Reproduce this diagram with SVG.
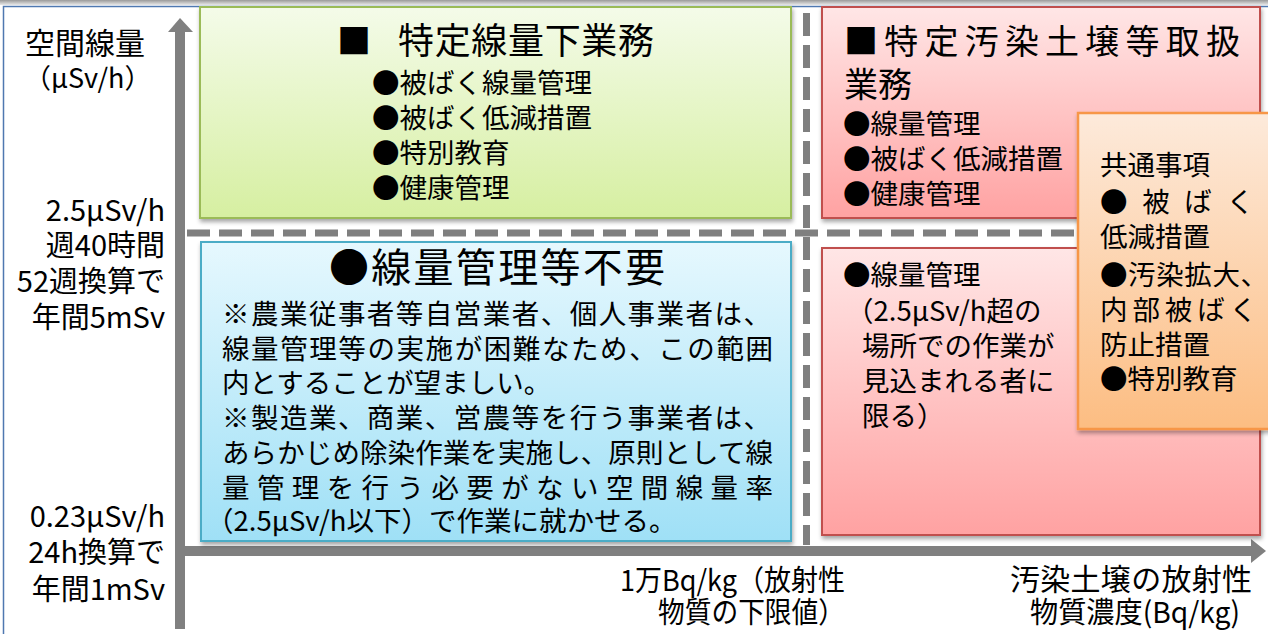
<svg xmlns="http://www.w3.org/2000/svg" width="1268" height="634" viewBox="0 0 1268 634">
<defs>
<style>
text{font-family:"Noto Sans CJK JP","Noto Sans",sans-serif;fill:#000;}
.t27{font-size:29px;}
.t28{font-size:27.5px;}
.lbl{font-size:29px;text-anchor:end;}
.axis{fill:#808080;}
.dash{stroke:#7f7f7f;stroke-width:7;fill:none;stroke-dasharray:23 9;}
</style>
<linearGradient id="gGreen" x1="0" y1="0" x2="0" y2="1"><stop offset="0" stop-color="#f4fbe9"/><stop offset="1" stop-color="#d6efa1"/></linearGradient>
<linearGradient id="gRed" x1="0" y1="0" x2="0" y2="1"><stop offset="0" stop-color="#ffe6e6"/><stop offset="1" stop-color="#ffa2a2"/></linearGradient>
<linearGradient id="gBlue" x1="0" y1="0" x2="0" y2="1"><stop offset="0" stop-color="#e6f8fe"/><stop offset="1" stop-color="#9fe0f6"/></linearGradient>
<linearGradient id="gOrange" x1="0" y1="0" x2="0" y2="1"><stop offset="0" stop-color="#fdeadb"/><stop offset="1" stop-color="#fcbd82"/></linearGradient>
<linearGradient id="gTop" x1="0" y1="0" x2="0" y2="1"><stop offset="0" stop-color="#9a9a9a"/><stop offset="1" stop-color="#e8e8e8"/></linearGradient>
<filter id="sh" x="-5%" y="-5%" width="110%" height="115%"><feDropShadow dx="1" dy="3" stdDeviation="2" flood-color="#000" flood-opacity="0.35"/></filter>
</defs>
<rect x="0" y="0" width="1268" height="634" fill="#ffffff"/>
<rect x="0" y="0" width="1268" height="5" fill="url(#gTop)"/>
<rect x="3.5" y="6.5" width="1270" height="640" fill="#fff" stroke="#4f78b0" stroke-width="1.5"/>

<g id="connectors">
<line class="dash" x1="187" y1="233" x2="1268" y2="233"/>
<line class="dash" x1="806.5" y1="13" x2="806.5" y2="545"/>
<rect class="axis" x="175" y="31" width="10" height="598"/>
<polygon class="axis" points="168,32 180,18 193,32"/>
<rect class="axis" x="175" y="546" width="1078" height="10"/>
<polygon class="axis" points="1251,539 1266,551 1251,563"/>
</g>

<g id="axis-labels">
<text x="25" y="54" style="font-size:30px">空間線量</text>
<text x="24" y="88" style="font-size:27px">（μSv/h）</text>
<text class="lbl" x="165" y="221">2.5μSv/h</text>
<text class="lbl" x="165" y="256">週40時間</text>
<text class="lbl" x="165" y="292">52週換算で</text>
<text class="lbl" x="165" y="328">年間5mSv</text>
<text class="lbl" x="165" y="527">0.23μSv/h</text>
<text class="lbl" x="165" y="563">24h換算で</text>
<text class="lbl" x="165" y="600">年間1mSv</text>
<text class="t27" x="620" y="591" textLength="225" lengthAdjust="spacingAndGlyphs">1万Bq/kg（放射性</text>
<text class="t27" x="658" y="623" textLength="187" lengthAdjust="spacingAndGlyphs">物質の下限値）</text>
<text class="t27" x="1010" y="590" style="font-size:30px" textLength="242" lengthAdjust="spacing">汚染土壌の放射性</text>
<text class="t27" x="1030" y="623" textLength="210" lengthAdjust="spacingAndGlyphs">物質濃度(Bq/kg)</text>
</g>

<g id="green-box">
<rect x="200" y="7" width="591" height="211" fill="url(#gGreen)" stroke="#9bbb59" stroke-width="2" filter="url(#sh)"/>
<text x="337" y="54" style="font-size:34px">■</text>
<text x="398" y="54" style="font-size:36px" textLength="256" lengthAdjust="spacing">特定線量下業務</text>
<text class="t28" x="372" y="93">●被ばく線量管理</text>
<text class="t28" x="372" y="128">●被ばく低減措置</text>
<text class="t28" x="372" y="163">●特別教育</text>
<text class="t28" x="372" y="198">●健康管理</text>
</g>

<g id="red-upper-box">
<rect x="822" y="7" width="438" height="211" fill="url(#gRed)" stroke="#c0504d" stroke-width="2" filter="url(#sh)"/>
<text x="844" y="54" style="font-size:34px" textLength="396" lengthAdjust="spacing">■特定汚染土壌等取扱</text>
<text x="844" y="97" style="font-size:34px">業務</text>
<text class="t28" x="843" y="134">●線量管理</text>
<text class="t28" x="843" y="169">●被ばく低減措置</text>
<text class="t28" x="843" y="204">●健康管理</text>
</g>

<g id="blue-box">
<rect x="201" y="242" width="590" height="299" fill="url(#gBlue)" stroke="#4bacc6" stroke-width="2" filter="url(#sh)"/>
<text x="329" y="282" style="font-size:40px" textLength="336" lengthAdjust="spacing">●線量管理等不要</text>
<text class="t28" x="222" y="324" textLength="549" lengthAdjust="spacing">※農業従事者等自営業者、個人事業者は、</text>
<text class="t28" x="222" y="359" textLength="551" lengthAdjust="spacing">線量管理等の実施が困難なため、この範囲</text>
<text class="t28" x="222" y="393">内とすることが望ましい。</text>
<text class="t28" x="222" y="428" textLength="549" lengthAdjust="spacing">※製造業、商業、営農等を行う事業者は、</text>
<text class="t28" x="222" y="463" textLength="551" lengthAdjust="spacing">あらかじめ除染作業を実施し、原則として線</text>
<text class="t28" x="222" y="498" textLength="551" lengthAdjust="spacing">量管理を行う必要がない空間線量率</text>
<text class="t28" x="206" y="531">（2.5μSv/h以下）で作業に就かせる。</text>
</g>

<g id="red-lower-box">
<rect x="822" y="248" width="438" height="287" fill="url(#gRed)" stroke="#c0504d" stroke-width="2" filter="url(#sh)"/>
<text class="t28" x="843" y="285">●線量管理</text>
<text class="t28" x="846" y="321">（2.5μSv/h超の</text>
<text class="t28" x="862" y="356">場所での作業が</text>
<text class="t28" x="862" y="391">見込まれる者に</text>
<text class="t28" x="862" y="426">限る）</text>
</g>

<g id="orange-box">
<rect x="1078" y="113" width="200" height="316" fill="url(#gOrange)" stroke="#f79646" stroke-width="2.5" filter="url(#sh)"/>
<text class="t28" x="1100" y="175">共通事項</text>
<text class="t28" x="1100" y="212" textLength="154" lengthAdjust="spacing">●被ばく</text>
<text class="t28" x="1100" y="247">低減措置</text>
<text class="t28" x="1100" y="285" textLength="168" lengthAdjust="spacing">●汚染拡大、</text>
<text class="t28" x="1100" y="320" textLength="157" lengthAdjust="spacing">内部被ばく</text>
<text class="t28" x="1100" y="355">防止措置</text>
<text class="t28" x="1100" y="389">●特別教育</text>
</g>
</svg>
